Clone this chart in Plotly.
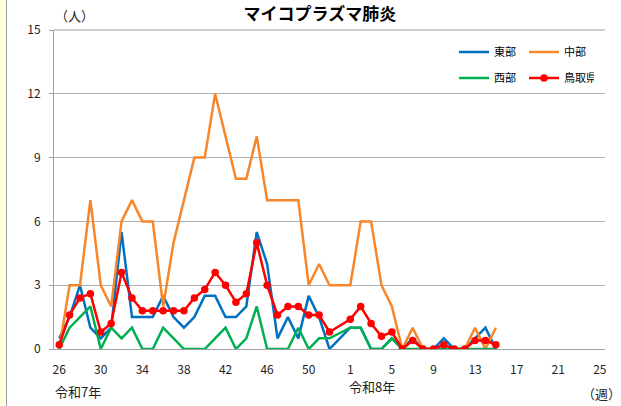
import plotly.graph_objects as go

# Week categories: 令和7年 weeks 26-53, 令和8年 weeks 1-25
weeks = [str(w) for w in range(26, 54)] + [str(w) for w in range(1, 26)]
tick_labels = weeks[::4]

# Values per sentinel (None = no data)
east = [0.5, 1.5, 3, 1, 0.5, 1, 5.5, 1.5, 1.5, 1.5, 2.5, 1.5, 1, 1.5, 2.5, 2.5, 1.5, 1.5,
        2, 5.5, 4, 0.5, 1.5, 0.5, 2.5, 1.5, 0, None, 1, 1, 0, 0, 0.5, 0, 0.5, 0, 0, 0.5, 0, 0,
        0.5, 1, 0]
central = [0, 3, 3, 7, 3, 2, 6, 7, 6, 6, 2, 5, 7, 9, 9, 12, 10, 8,
           8, 10, 7, 7, 7, 7, 3, 4, 3, None, 3, 6, 6, 3, 2, 0, 1, 0, 0, 0, 0, 0,
           1, 0, 1]
west = [0, 1, 1.5, 2, 0, 1, 0.5, 1, 0, 0, 1, 0.5, 0, 0, 0, 0.5, 1, 0,
        0.5, 2, 0, 0, 0, 1, 0, 0.5, 0.5, None, 1, 1, 0, 0, 0.5, 0, 0, 0, 0, 0, 0, 0,
        0, 0, 0]
tottori = [0.2, 1.6, 2.4, 2.6, 0.8, 1.2, 3.6, 2.4, 1.8, 1.8, 1.8, 1.8, 1.8, 2.4, 2.8, 3.6, 3.0, 2.2,
           2.6, 5.0, 3.0, 1.6, 2.0, 2.0, 1.6, 1.6, 0.8, None, 1.4, 2.0, 1.2, 0.6, 0.8, 0, 0.4, 0, 0, 0.2, 0, 0,
           0.4, 0.4, 0.2]

x_data = weeks[:len(east)]

FONT = "Noto Sans CJK JP, Noto Sans, sans-serif"

fig = go.Figure()
fig.add_trace(go.Scatter(x=x_data, y=east, name="東部", mode="lines",
                         line=dict(color="#0070C0", width=2.5), connectgaps=True, legend="legend"))
fig.add_trace(go.Scatter(x=x_data, y=central, name="中部", mode="lines",
                         line=dict(color="#F7862A", width=2.5), connectgaps=True, legend="legend"))
fig.add_trace(go.Scatter(x=x_data, y=west, name="西部", mode="lines",
                         line=dict(color="#00B050", width=2.5), connectgaps=True, legend="legend2"))
fig.add_trace(go.Scatter(x=x_data, y=tottori, name="鳥取県", mode="lines+markers",
                         line=dict(color="#FF0000", width=2.5),
                         marker=dict(color="#FF0000", size=7.5), connectgaps=True, legend="legend2"))

L, R, T, B = 54, 16, 30, 57
W, H = 621, 406
pw, ph = W - L - R, H - T - B

def px(x):
    return (x - L) / pw

def py(y):
    return 1 - (y - T) / ph

leg_common = dict(orientation="h", xanchor="left", yanchor="middle",
                  entrywidth=25, itemwidth=30, bgcolor="rgba(0,0,0,0)",
                  font=dict(size=11, color="#000000"), traceorder="normal")

fig.update_layout(
    width=W, height=H,
    margin=dict(l=L, r=R, t=T, b=B, autoexpand=False),
    paper_bgcolor="white", plot_bgcolor="white",
    font=dict(family=FONT, size=12, color="#222222"),
    title=dict(text="<b>マイコプラズマ肺炎</b>", x=0.515, xanchor="center",
               y=1 - 14 / H, yanchor="middle", font=dict(size=17, color="#000000")),
    legend=dict(x=px(454), y=py(52), **leg_common),
    legend2=dict(x=px(454), y=py(78), **leg_common),
    xaxis=dict(type="category", categoryorder="array", categoryarray=weeks,
               range=[-0.5, len(weeks) - 0.5], tickmode="array", tickvals=tick_labels,
               ticktext=tick_labels, showgrid=False, showline=True, linecolor="#A0A0A0",
               linewidth=1, ticks="outside", ticklen=0, tickfont=dict(size=12, color="#222222"),
               zeroline=False, automargin=False, ticklabelstandoff=10),
    yaxis=dict(range=[0, 15], tickvals=[0, 3, 6, 9, 12, 15], showgrid=True,
               gridcolor="#B0B0B0", gridwidth=1, showline=True, linecolor="#A0A0A0",
               linewidth=1, ticks="outside", ticklen=4, tickcolor="#A0A0A0",
               tickfont=dict(size=12, color="#222222"), zeroline=False,
               ticklabelstandoff=6, automargin=False),
    showlegend=True,
)

# Left light-yellow strip
fig.add_shape(type="rect", xref="paper", yref="paper", x0=px(0), x1=px(6),
              y0=py(H), y1=py(0), fillcolor="#FFFFE0", line=dict(width=0), layer="below")
fig.add_shape(type="line", xref="paper", yref="paper", x0=px(6.5), x1=px(6.5),
              y0=py(H), y1=py(0), line=dict(color="#A0A0A0", width=1))
# Top border of plot area
fig.add_shape(type="line", xref="paper", yref="paper", x0=0, x1=1, y0=1, y1=1,
              line=dict(color="#A0A0A0", width=1))

ann = dict(xref="paper", yref="paper", showarrow=False, font=dict(size=13, color="#222222"))
fig.add_annotation(text="（人）", x=px(74), y=py(15), xanchor="center", yanchor="middle", **ann)
fig.add_annotation(text="令和7年", x=px(78), y=py(391), xanchor="center", yanchor="middle", **ann)
fig.add_annotation(text="令和8年", x=px(372), y=py(386), xanchor="center", yanchor="middle", **ann)
fig.add_annotation(text="（週）", x=px(601), y=py(393), xanchor="center", yanchor="middle", **ann)

fig.write_html("out.html", config={"displayModeBar": False},
               post_script="document.body.style.margin='0';document.body.style.overflow='hidden';")
